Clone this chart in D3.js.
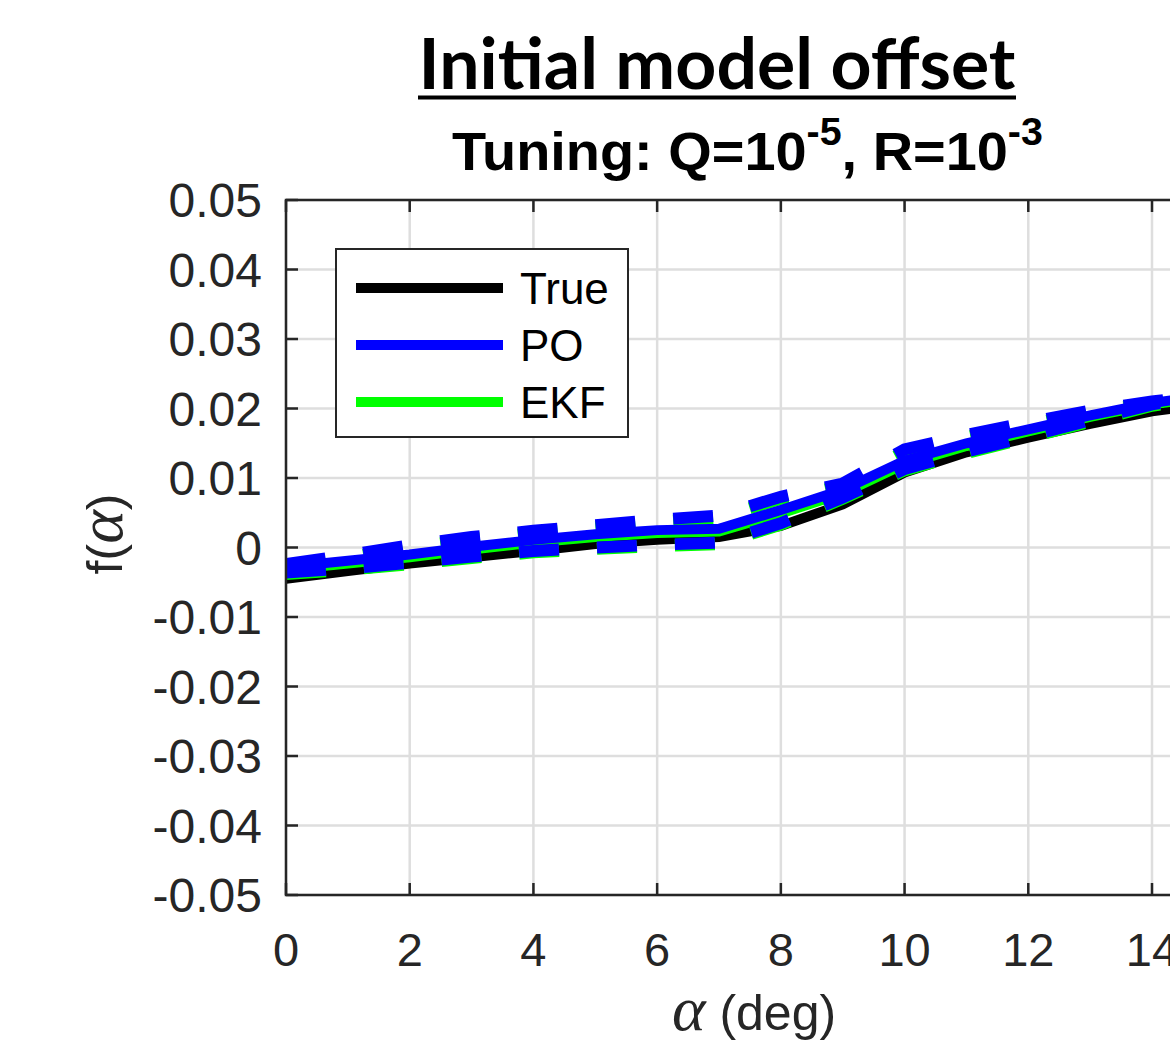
<!DOCTYPE html>
<html>
<head>
<meta charset="utf-8">
<script src="https://cdn.jsdelivr.net/npm/d3@7"></script>
<style>
  body { margin: 0; background: #fff; }
  svg { display: block; }
</style>
</head>
<body>
<div id="chart"></div>
<script>
// data
var alpha = [0, 1, 2, 3, 4, 5, 6, 7, 8, 9, 10, 11, 12, 13, 14, 15];
var fTrue = [-0.0045, -0.0034, -0.0023, -0.0014, -0.0005, 0.0005, 0.0011, 0.0015, 0.0031, 0.0062, 0.0108, 0.0137, 0.0158, 0.0178, 0.0196, 0.0208];
var fPO = [-0.0028, -0.0019, -0.0010, 0.0001, 0.0011, 0.0019, 0.0025, 0.0027, 0.0054, 0.0083, 0.0125, 0.0150, 0.0170, 0.0190, 0.0208, 0.0220];
var fEKF = [-0.0032, -0.0023, -0.0014, -0.0003, 0.0007, 0.0015, 0.0021, 0.0023, 0.0049, 0.0078, 0.0120, 0.0146, 0.0167, 0.0188, 0.0206, 0.0218];
var fPOupper = [-0.0024, -0.0011, 0.0003, 0.0015, 0.0024, 0.0032, 0.0040, 0.0046, 0.0073, 0.0092, 0.0141, 0.0162, 0.0180, 0.0197, 0.0210, 0.0221];
var fPOlower = [-0.0036, -0.0030, -0.0022, -0.0013, -0.0005, 0.0000, 0.0004, 0.0007, 0.0035, 0.0072, 0.0113, 0.0138, 0.0160, 0.0183, 0.0206, 0.0219];
var fEKFupper = [-0.0027, -0.0014, 0.0000, 0.0012, 0.0021, 0.0029, 0.0037, 0.0043, 0.0070, 0.0089, 0.0138, 0.0159, 0.0177, 0.0195, 0.0208, 0.0219];
var fEKFlower = [-0.0038, -0.0032, -0.0024, -0.0015, -0.0007, -0.0002, 0.0002, 0.0005, 0.0033, 0.0070, 0.0111, 0.0136, 0.0158, 0.0181, 0.0204, 0.0217];

var xTicks = [0, 2, 4, 6, 8, 10, 12, 14];
var xTickLabels = ["0", "2", "4", "6", "8", "10", "12", "14"];
var yTicks = [0.05, 0.04, 0.03, 0.02, 0.01, 0, -0.01, -0.02, -0.03, -0.04, -0.05];
var yTickLabels = ["0.05", "0.04", "0.03", "0.02", "0.01", "0", "-0.01", "-0.02", "-0.03", "-0.04", "-0.05"];

var legendLabels = ["True", "PO", "EKF"];
var legendColors = ["#000000", "#0000ff", "#00ff00"];

// set the dimensions of the graph
var width = 1170;
var height = 1057;
var axisColor = "#262626";

var svg = d3.select("#chart")
  .append("svg")
    .attr("width", width)
    .attr("height", height)
    .style("font-family", "'Liberation Sans', Arial, Helvetica, sans-serif");

// plot box: x=0 sits at 286, x=14 at 1152; y from 0.05 (200) to -0.05 (895)
var x = d3.scaleLinear().domain([0, 20]).range([286, 286 + 20 * (1152 - 286) / 14]);
var y = d3.scaleLinear().domain([-0.05, 0.05]).range([895, 200]);

var boxLeft = x(0), boxRight = x(20), boxTop = y(0.05), boxBottom = y(-0.05);

svg.append("defs").append("clipPath").attr("id", "plotclip")
  .append("rect")
    .attr("x", boxLeft).attr("y", boxTop)
    .attr("width", boxRight - boxLeft).attr("height", boxBottom - boxTop);

// grid
var grid = svg.append("g");
grid.selectAll(".vgrid")
  .data(xTicks)
  .enter().append("line")
    .attr("x1", d => x(d)).attr("x2", d => x(d))
    .attr("y1", boxTop).attr("y2", boxBottom)
    .attr("stroke", "#dedede").attr("stroke-width", 2.5);
grid.selectAll(".hgrid")
  .data(yTicks)
  .enter().append("line")
    .attr("y1", d => y(d)).attr("y2", d => y(d))
    .attr("x1", boxLeft).attr("x2", boxRight)
    .attr("stroke", "#dedede").attr("stroke-width", 2.5);

// lines
function series(vals) {
  return alpha.map((a, i) => ({ a: a, v: vals[i] }));
}
var line = d3.line().x(d => x(d.a)).y(d => y(d.v));

var plot = svg.append("g").attr("clip-path", "url(#plotclip)");

function drawLine(vals, color, w, dashed) {
  var p = plot.append("path")
    .datum(series(vals))
    .attr("d", line)
    .attr("fill", "none")
    .attr("stroke", color)
    .attr("stroke-width", w)
    .attr("stroke-linejoin", "miter");
  if (dashed) p.attr("stroke-dasharray", "40,38");
}

drawLine(fTrue, "#000000", 10, false);
drawLine(fEKF, "#00ff00", 10, false);
drawLine(fEKFupper, "#00ff00", 12, true);
drawLine(fEKFlower, "#00ff00", 12, true);
drawLine(fPO, "#0000ff", 10, false);
drawLine(fPOupper, "#0000ff", 12, true);
drawLine(fPOlower, "#0000ff", 12, true);

// axes box and ticks
var axes = svg.append("g");
axes.append("rect")
  .attr("x", boxLeft).attr("y", boxTop)
  .attr("width", boxRight - boxLeft).attr("height", boxBottom - boxTop)
  .attr("fill", "none").attr("stroke", axisColor).attr("stroke-width", 2.5);

axes.selectAll(".xtick")
  .data(xTicks)
  .enter().append("path")
    .attr("d", d => "M" + x(d) + "," + boxBottom + "v-12M" + x(d) + "," + boxTop + "v12")
    .attr("stroke", axisColor).attr("stroke-width", 2.5);
axes.selectAll(".ytick")
  .data(yTicks)
  .enter().append("path")
    .attr("d", d => "M" + boxLeft + "," + y(d) + "h12")
    .attr("stroke", axisColor).attr("stroke-width", 2.5);

axes.selectAll(".xlabel")
  .data(xTicks)
  .enter().append("text")
    .attr("x", d => x(d))
    .attr("y", 966)
    .attr("text-anchor", "middle")
    .attr("fill", axisColor)
    .style("font-size", "47px")
    .text((d, i) => xTickLabels[i]);

axes.selectAll(".ylabel")
  .data(yTicks)
  .enter().append("text")
    .attr("x", 262)
    .attr("y", d => y(d))
    .attr("dy", "0.36em")
    .attr("text-anchor", "end")
    .attr("fill", axisColor)
    .style("font-size", "48px")
    .text((d, i) => yTickLabels[i]);

// axis titles
var xt = svg.append("text")
  .attr("x", 754).attr("y", 1030)
  .attr("text-anchor", "middle")
  .attr("fill", axisColor)
  .style("font-size", "50px");
xt.append("tspan")
  .style("font-family", "'Liberation Serif', 'DejaVu Serif', serif")
  .style("font-style", "italic")
  .style("font-size", "64px")
  .text("α");
xt.append("tspan").text("\u00a0(deg)");

var yt = svg.append("text")
  .attr("transform", "translate(122,534) rotate(-90)")
  .attr("text-anchor", "middle")
  .attr("fill", axisColor)
  .style("font-size", "50px");
yt.append("tspan").text("f(");
yt.append("tspan")
  .style("font-family", "'Liberation Serif', 'DejaVu Serif', serif")
  .style("font-style", "italic")
  .style("font-size", "64px")
  .text("α");
yt.append("tspan").text(")");

// legend
var legend = svg.append("g");
legend.append("rect")
  .attr("x", 336).attr("y", 249)
  .attr("width", 292).attr("height", 188)
  .attr("fill", "#fff").attr("stroke", axisColor).attr("stroke-width", 2);
var items = legend.selectAll(".item")
  .data(legendLabels)
  .enter().append("g")
    .attr("transform", (d, i) => "translate(0," + (288 + i * 57) + ")");
items.append("line")
  .attr("x1", 356).attr("x2", 503)
  .attr("stroke", (d, i) => legendColors[i])
  .attr("stroke-width", 10);
items.append("text")
  .attr("x", 520)
  .attr("dy", "0.36em")
  .attr("fill", "#000")
  .style("font-size", "44px")
  .text(d => d);

// title, underlined
var title = svg.append("text")
  .attr("x", 717).attr("y", 89)
  .attr("text-anchor", "middle")
  .attr("fill", "#000")
  .style("font-family", "Lato, 'Open Sans', sans-serif")
  .style("font-weight", "bold")
  .style("font-size", "64px")
  .text("Initial model offset");
var tw = title.node().getComputedTextLength();
title.style("font-size", (64 * 597 / tw) + "px");
svg.append("line")
  .attr("x1", 418).attr("x2", 1016)
  .attr("y1", 97.5).attr("y2", 97.5)
  .attr("stroke", "#000").attr("stroke-width", 4);

// subtitle with superscripts
var sub = svg.append("text")
  .attr("y", 170)
  .attr("fill", "#000")
  .style("font-family", "'Liberation Sans Narrow', 'Liberation Sans', Arial, sans-serif")
  .style("font-weight", "bold")
  .style("font-size", "54px");
sub.append("tspan").text("Tuning: Q=10");
sub.append("tspan").attr("dy", -25).style("font-size", "38px").text("-5");
sub.append("tspan").attr("dy", 25).text(", R=10");
sub.append("tspan").attr("dy", -25).style("font-size", "38px").text("-3");
var sb = sub.node().getBBox();
var sx = 591 / sb.width;
sub.attr("transform", "translate(452,0) scale(" + sx + ",1) translate(" + (-sb.x) + ",0)");
</script>
</body>
</html>
